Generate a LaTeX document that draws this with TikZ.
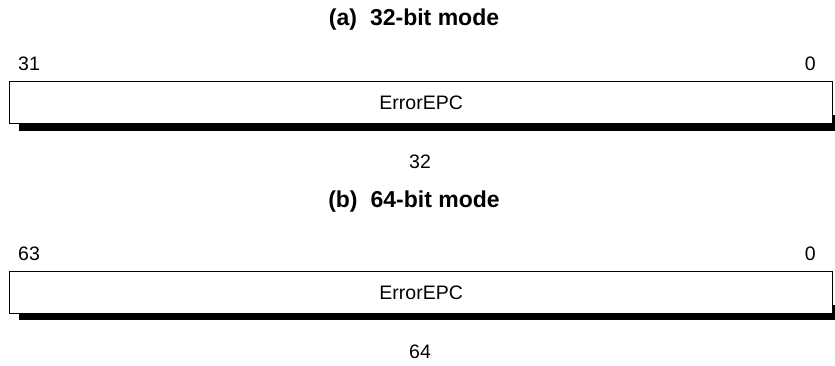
\documentclass[tikz,border=0pt]{standalone}
\usepackage{fontspec}
\setmainfont{Liberation Sans}
\begin{document}
\begin{tikzpicture}[x=1pt,y=-1pt,
  txt/.style={inner sep=0pt,font=\fontsize{19.5}{22}\selectfont},
  ttl/.style={inner sep=0pt,font=\fontsize{23}{26}\selectfont\bfseries},
  regbox/.style={draw=black,line width=1.4pt,fill=white,minimum width=823pt,minimum height=42pt,inner sep=0pt,anchor=north west,font=\fontsize{19.5}{22}\selectfont},
  shadowbar/.style={fill=black,draw=none}]
\useasboundingbox (0,0) rectangle (835,365);
% (a)
\node[ttl] (ta) at (414,20) {(a)\hspace{13pt}32-bit mode};
\node[txt,anchor=west] (ha) at (18,64) {31};
\node[txt,anchor=east] (la) at (816,64) {0};
\fill[shadowbar] (19,115) rectangle (835,131);
\node[regbox] (ra) at (9,81) {ErrorEPC};
\node[txt] (wa) at (420,162) {32};
% (b)
\node[ttl] (tb) at (414,202) {(b)\hspace{13pt}64-bit mode};
\node[txt,anchor=west] (hb) at (18,254) {63};
\node[txt,anchor=east] (lb) at (816,254) {0};
\fill[shadowbar] (19,305) rectangle (835,320);
\node[regbox] (rb) at (9,271) {ErrorEPC};
\node[txt] (wb) at (420,352) {64};
\end{tikzpicture}
\end{document}
